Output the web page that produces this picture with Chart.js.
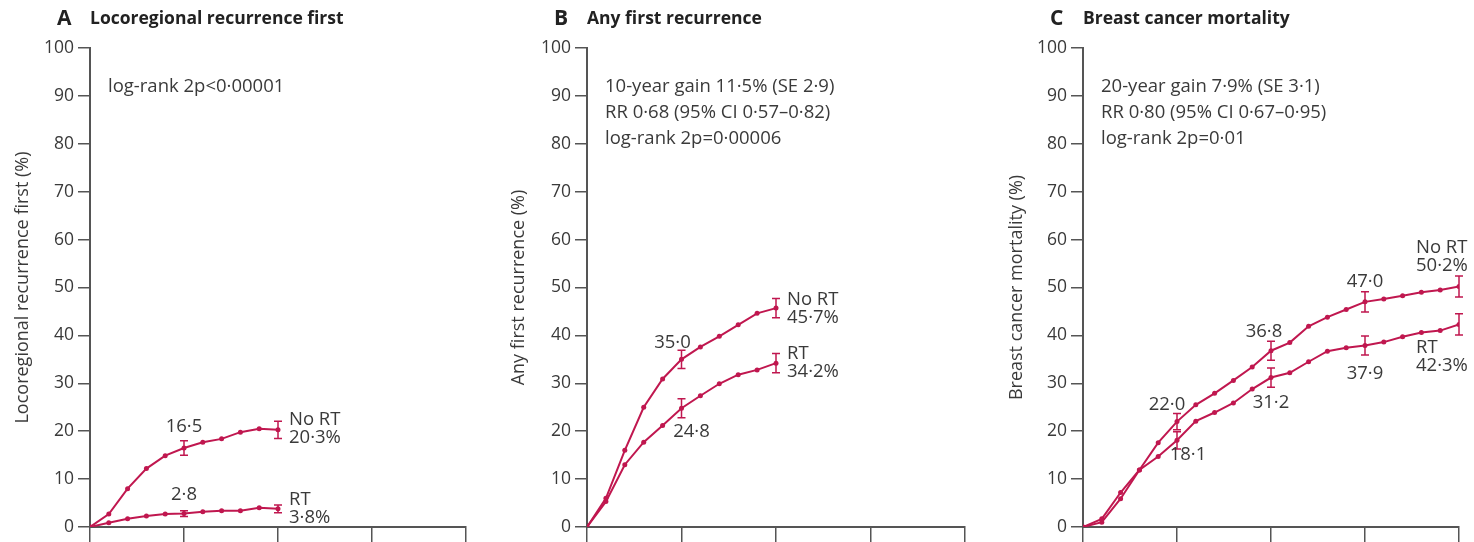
<!DOCTYPE html>
<html>
<head>
<meta charset="utf-8">
<script src="https://cdn.jsdelivr.net/npm/chart.js@4.4.0/dist/chart.umd.min.js"></script>
<style>
  body { margin: 0; background: #fff; width: 1474px; height: 542px; overflow: hidden; position: relative; }
  canvas { position: absolute; top: 0; }
</style>
</head>
<body>
<canvas id="chartA" width="490" height="542" style="left:0"></canvas>
<canvas id="chartB" width="490" height="542" style="left:490px"></canvas>
<canvas id="chartC" width="494" height="542" style="left:980px"></canvas>
<script>
const COLOR = '#c0174f';
const INK = '#3a3a3a';
const AXIS = '#555';
const FONT = "'Open Sans', sans-serif";

const xTicks = [0, 5, 10, 15, 20];
const yTicks = [0, 10, 20, 30, 40, 50, 60, 70, 80, 90, 100];

// A: locoregional recurrence first
const yearsA = [0, 1, 2, 3, 4, 5, 6, 7, 8, 9, 10];
const noRtA = [0, 2.7, 8.0, 12.2, 14.9, 16.5, 17.7, 18.4, 19.8, 20.5, 20.3];
const rtA = [0, 0.9, 1.7, 2.3, 2.7, 2.8, 3.2, 3.4, 3.4, 4.0, 3.8];
const errYearsA = [5, 10];
const noRtSeA = [1.5, 1.8];
const rtSeA = [0.6, 0.8];
const statsA = ['log-rank 2p<0\u00b700001'];

// B: any first recurrence
const yearsB = [0, 1, 2, 3, 4, 5, 6, 7, 8, 9, 10];
const noRtB = [0, 6.0, 16.0, 25.0, 30.9, 35.0, 37.6, 39.8, 42.2, 44.6, 45.7];
const rtB = [0, 5.3, 13.0, 17.7, 21.2, 24.8, 27.4, 29.9, 31.8, 32.8, 34.2];
const errYearsB = [5, 10];
const noRtSeB = [1.9, 2.0];
const rtSeB = [2.0, 2.0];
const statsB = ['10-year gain 11\u00b75% (SE 2\u00b79)', 'RR 0\u00b768 (95% CI 0\u00b757\u20130\u00b782)', 'log-rank 2p=0\u00b700006'];

// C: breast cancer mortality
const yearsC = [0, 1, 2, 3, 4, 5, 6, 7, 8, 9, 10, 11, 12, 13, 14, 15, 16, 17, 18, 19, 20];
const noRtC = [0, 1.7, 7.2, 11.9, 17.6, 22.0, 25.5, 27.9, 30.6, 33.4, 36.8, 38.5, 41.9, 43.8, 45.4, 47.0, 47.6, 48.3, 49.0, 49.5, 50.2];
const rtC = [0, 1.0, 5.9, 11.9, 14.7, 18.1, 22.1, 23.9, 25.9, 28.8, 31.2, 32.2, 34.5, 36.7, 37.4, 37.9, 38.6, 39.7, 40.6, 41.0, 42.3];
const errYearsC = [5, 10, 15, 20];
const noRtSeC = [1.7, 2.0, 2.1, 2.2];
const rtSeC = [1.8, 2.0, 2.0, 2.2];
const statsC = ['20-year gain 7\u00b79% (SE 3\u00b71)', 'RR 0\u00b780 (95% CI 0\u00b767\u20130\u00b795)', 'log-rank 2p=0\u00b701'];

function fmt(v) { return v.toFixed(1).replace('.', '\u00b7'); }

// error bars (value +/- se) drawn through the chart's scales
const errorBarPlugin = {
  id: 'errorBars',
  afterDatasetsDraw(chart) {
    const ctx = chart.ctx;
    const xs = chart.scales.x, ys = chart.scales.y;
    ctx.save();
    ctx.strokeStyle = COLOR;
    ctx.lineWidth = 1.5;
    chart.data.datasets.forEach(ds => {
      ds.errYears.forEach((yr, k) => {
        const p = ds.data.find(d => d.x === yr);
        const x = xs.getPixelForValue(yr);
        const y1 = ys.getPixelForValue(p.y + ds.errSe[k]);
        const y2 = ys.getPixelForValue(p.y - ds.errSe[k]);
        ctx.beginPath();
        ctx.moveTo(x, y1); ctx.lineTo(x, y2);
        ctx.moveTo(x - 4, y1); ctx.lineTo(x + 4, y1);
        ctx.moveTo(x - 4, y2); ctx.lineTo(x + 4, y2);
        ctx.stroke();
      });
    });
    ctx.restore();
  }
};

// heading, stats and the value labels
const textPlugin = {
  id: 'panelText',
  afterDraw(chart, args, o) {
    const ctx = chart.ctx, area = chart.chartArea;
    const xs = chart.scales.x, ys = chart.scales.y;
    ctx.save();
    ctx.textBaseline = 'middle';
    ctx.fillStyle = '#222';
    ctx.font = `bold 21px ${FONT}`;
    ctx.fillText(o.letter, area.left - 33, 19);
    ctx.font = `bold 17.5px ${FONT}`;
    ctx.fillText(o.title, area.left, 19);

    ctx.fillStyle = INK;
    ctx.font = `18.5px ${FONT}`;
    o.stats.forEach((s, i) => ctx.fillText(s, area.left + 18, area.top + 39 + i * 26));

    ctx.textAlign = 'center';
    o.marks.forEach(m => {
      const p = chart.data.datasets[m.ds].data.find(d => d.x === m.year);
      ctx.fillText(fmt(p.y), xs.getPixelForValue(p.x) + m.dx, ys.getPixelForValue(p.y) + m.dy);
    });

    ctx.textAlign = 'left';
    o.ends.forEach(e => {
      const ds = chart.data.datasets[e.ds];
      const p = ds.data[ds.data.length - 1];
      const px = xs.getPixelForValue(p.x) + e.dx;
      const py = ys.getPixelForValue(p.y) + e.dy;
      ctx.fillText(ds.label, px, py);
      ctx.fillText(fmt(p.y) + '%', px, py + 18);
    });
    ctx.restore();
  }
};

function makePanel(id, cfg) {
  const series = (years, vals) => years.map((x, i) => ({ x: x, y: vals[i] }));
  const ds = (label, vals, se) => ({
    label: label,
    data: series(cfg.years, vals),
    errYears: cfg.errYears,
    errSe: se,
    borderColor: COLOR,
    backgroundColor: COLOR,
    pointBackgroundColor: COLOR,
    pointBorderColor: COLOR,
    borderWidth: 2,
    pointRadius: 2.5,
    pointBorderWidth: 0,
    tension: 0
  });
  return new Chart(document.getElementById(id), {
    type: 'line',
    data: { datasets: [ds('No RT', cfg.noRt, cfg.noRtSe), ds('RT', cfg.rt, cfg.rtSe)] },
    options: {
      responsive: false,
      animation: false,
      events: [],
      layout: { padding: { top: 48, right: cfg.padRight, left: 0, bottom: 0 } },
      plugins: {
        legend: { display: false },
        tooltip: { enabled: false },
        panelText: { letter: cfg.letter, title: cfg.title, stats: cfg.stats, marks: cfg.marks, ends: cfg.ends }
      },
      scales: {
        x: {
          type: 'linear', min: 0, max: 20,
          afterBuildTicks: s => { s.ticks = xTicks.map(v => ({ value: v })); },
          ticks: { display: false },
          grid: { drawOnChartArea: false, tickLength: 15, color: AXIS, lineWidth: 1.5 },
          border: { color: AXIS, width: 2 },
          afterFit: s => { s.height = 15; }
        },
        y: {
          min: 0, max: 100,
          afterBuildTicks: s => { s.ticks = yTicks.map(v => ({ value: v })); },
          ticks: { color: INK, font: { family: FONT, size: 17.5 }, padding: 4 },
          grid: { drawOnChartArea: false, tickLength: 12, color: AXIS, lineWidth: 1.5 },
          border: { color: AXIS, width: 2 },
          title: { display: true, text: cfg.yTitle, color: INK, font: { family: FONT, size: 18 }, padding: { top: cfg.titlePad, bottom: 0 } },
          afterFit: s => { s.width = cfg.axisWidth; }
        }
      }
    },
    plugins: [errorBarPlugin, textPlugin]
  });
}

makePanel('chartA', {
  letter: 'A', title: 'Locoregional recurrence first', yTitle: 'Locoregional recurrence first (%)',
  years: yearsA, noRt: noRtA, rt: rtA, errYears: errYearsA, noRtSe: noRtSeA, rtSe: rtSeA, stats: statsA,
  axisWidth: 90, padRight: 24, titlePad: 12,
  marks: [{ ds: 0, year: 5, dx: 0, dy: -21 }, { ds: 1, year: 5, dx: 0, dy: -19 }],
  ends: [{ ds: 0, dx: 11, dy: -10 }, { ds: 1, dx: 11, dy: -9 }]
});

makePanel('chartB', {
  letter: 'B', title: 'Any first recurrence', yTitle: 'Any first recurrence (%)',
  years: yearsB, noRt: noRtB, rt: rtB, errYears: errYearsB, noRtSe: noRtSeB, rtSe: rtSeB, stats: statsB,
  axisWidth: 97, padRight: 15, titlePad: 18,
  marks: [{ ds: 0, year: 5, dx: -9, dy: -17 }, { ds: 1, year: 5, dx: 10, dy: 24 }],
  ends: [{ ds: 0, dx: 11, dy: -8 }, { ds: 1, dx: 11, dy: -9 }]
});

makePanel('chartC', {
  letter: 'C', title: 'Breast cancer mortality', yTitle: 'Breast cancer mortality (%)',
  years: yearsC, noRt: noRtC, rt: rtC, errYears: errYearsC, noRtSe: noRtSeC, rtSe: rtSeC, stats: statsC,
  axisWidth: 103, padRight: 15, titlePad: 26,
  marks: [
    { ds: 0, year: 5, dx: -10, dy: -17 }, { ds: 1, year: 5, dx: 11, dy: 14 },
    { ds: 0, year: 10, dx: -7, dy: -19 }, { ds: 1, year: 10, dx: 0, dy: 25 },
    { ds: 0, year: 15, dx: 0, dy: -20 }, { ds: 1, year: 15, dx: 0, dy: 28 }
  ],
  ends: [{ ds: 0, dx: -43, dy: -39 }, { ds: 1, dx: -43, dy: 23 }]
});
</script>
</body>
</html>
